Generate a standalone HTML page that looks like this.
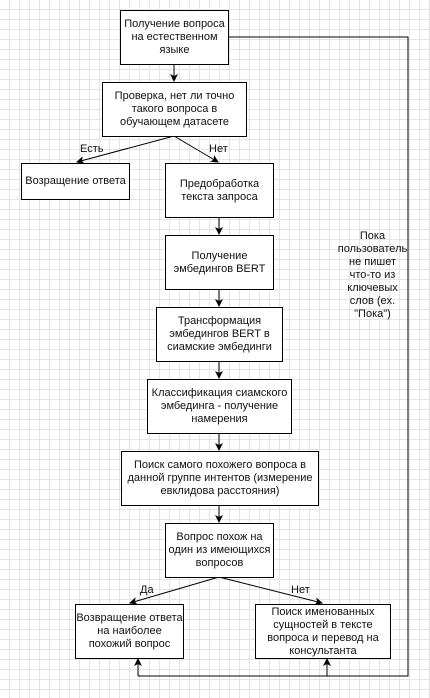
<!DOCTYPE html>
<html><head><meta charset="utf-8"><style>
body{margin:0;width:430px;height:698px;overflow:hidden;background:#fff;
background-image:linear-gradient(#e4e4e4 1px,transparent 1px),linear-gradient(90deg,#e4e4e4 1px,transparent 1px);background-size:10px 10px;background-position:-1px -1px;
font-family:"Liberation Sans",Arial,sans-serif;font-size:11px;color:#111;position:relative}
.b{position:absolute;border:1px solid #000;background:#fff;box-sizing:border-box;display:flex;align-items:center;justify-content:center;text-align:center;line-height:13px}
.l{position:absolute;line-height:13px;text-align:center}
svg{position:absolute;left:0;top:0}
</style></head><body>
<svg width="430" height="698">
<defs><marker id="a" markerWidth="8" markerHeight="8" refX="7" refY="4" orient="auto" markerUnits="userSpaceOnUse"><path d="M0,0 L8,4 L0,8 L2,4z" fill="#000"/></marker></defs>
<g stroke="#000" stroke-width="1" fill="none">
<line x1="174" y1="64" x2="174" y2="81" marker-end="url(#a)"/>
<line x1="174" y1="136" x2="77" y2="162" marker-end="url(#a)"/>
<line x1="174" y1="136" x2="218" y2="162" marker-end="url(#a)"/>
<line x1="219" y1="217" x2="219" y2="234" marker-end="url(#a)"/>
<line x1="219" y1="289" x2="219" y2="306" marker-end="url(#a)"/>
<line x1="219" y1="361" x2="219" y2="378" marker-end="url(#a)"/>
<line x1="219" y1="433" x2="219" y2="450" marker-end="url(#a)"/>
<line x1="219" y1="505" x2="219" y2="522" marker-end="url(#a)"/>
<line x1="219" y1="577" x2="130" y2="603" marker-end="url(#a)"/>
<line x1="219" y1="577" x2="322" y2="603" marker-end="url(#a)"/>
<polyline points="228,37 408,37 408,676 138,676"/>
<line x1="138" y1="676" x2="138" y2="659" marker-end="url(#a)"/>
<line x1="327" y1="676" x2="327" y2="659" marker-end="url(#a)"/>
</g></svg>
<div class="b" style="left:120px;top:10px;width:109px;height:55px">Получение вопроса<br>на естественном<br>языке</div>
<div class="b" style="left:102px;top:82px;width:145px;height:55px">Проверка, нет ли точно<br>такого вопроса в<br>обучающем датасете</div>
<div class="l" style="left:80px;top:143px">Есть</div>
<div class="l" style="left:209px;top:143px">Нет</div>
<div class="b" style="left:21px;top:163px;width:109px;height:37px">Возращение ответа</div>
<div class="b" style="left:165px;top:163px;width:109px;height:55px">Предобработка<br>текста запроса</div>
<div class="b" style="left:165px;top:235px;width:109px;height:55px">Получение<br>эмбедингов BERT</div>
<div class="b" style="left:156px;top:307px;width:127px;height:55px">Трансформация<br>эмбедингов BERT в<br>сиамские эмбединги</div>
<div class="b" style="left:147px;top:379px;width:145px;height:55px">Классификация сиамского<br>эмбединга - получение<br>намерения</div>
<div class="b" style="left:121px;top:451px;width:198px;height:55px">Поиск самого похожего вопроса в<br>данной группе интентов (измерение<br>евклидова расстояния)</div>
<div class="b" style="left:165px;top:523px;width:109px;height:55px">Вопрос похож на<br>один из имеющихся<br>вопросов</div>
<div class="l" style="left:140px;top:584px">Да</div>
<div class="l" style="left:291px;top:584px">Нет</div>
<div class="b" style="left:75px;top:604px;width:109px;height:55px">Возвращение ответа<br>на наиболее<br>похожий вопрос</div>
<div class="b" style="left:255px;top:604px;width:136px;height:55px">Поиск именованных<br>сущностей в тексте<br>вопроса и перевод на<br>консультанта</div>
<div class="l" style="left:330px;top:230px;width:85px">Пока<br>пользователь<br>не пишет<br>что-то из<br>ключевых<br>слов (ex.<br>"Пока")</div>
</body></html>
